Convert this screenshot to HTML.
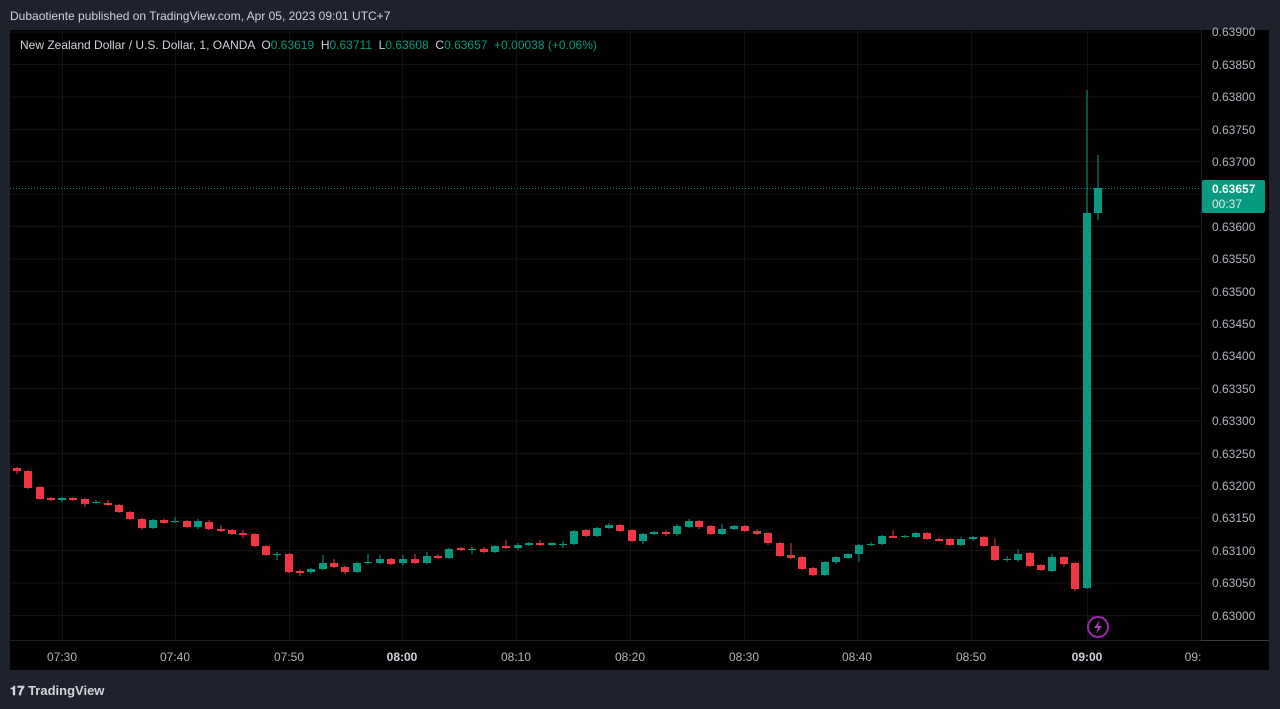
<!DOCTYPE html>
<html><head><meta charset="utf-8"><style>
body{margin:0;width:1280px;height:709px;background:#1e222d;overflow:hidden;font-family:"Liberation Sans",sans-serif}
</style></head><body>
<svg width="1280" height="709" xmlns="http://www.w3.org/2000/svg" style="position:absolute;left:0;top:0">
<rect x="0" y="0" width="1280" height="709" fill="#1e222d"/>
<rect x="10" y="30" width="1259" height="640" fill="#000"/>
<text x="10" y="20" fill="#d1d4dc" font-size="12">Dubaotiente published on TradingView.com, Apr 05, 2023 09:01 UTC+7</text>
<g stroke="#121212" stroke-width="1">
<line x1="10" x2="1201" y1="32" y2="32"/><line x1="10" x2="1201" y1="64.5" y2="64.5"/><line x1="10" x2="1201" y1="97" y2="97"/><line x1="10" x2="1201" y1="129.5" y2="129.5"/><line x1="10" x2="1201" y1="161.5" y2="161.5"/><line x1="10" x2="1201" y1="194" y2="194"/><line x1="10" x2="1201" y1="226.5" y2="226.5"/><line x1="10" x2="1201" y1="259" y2="259"/><line x1="10" x2="1201" y1="291.5" y2="291.5"/><line x1="10" x2="1201" y1="324" y2="324"/><line x1="10" x2="1201" y1="356" y2="356"/><line x1="10" x2="1201" y1="388.5" y2="388.5"/><line x1="10" x2="1201" y1="421" y2="421"/><line x1="10" x2="1201" y1="453.5" y2="453.5"/><line x1="10" x2="1201" y1="486" y2="486"/><line x1="10" x2="1201" y1="518" y2="518"/><line x1="10" x2="1201" y1="550.5" y2="550.5"/><line x1="10" x2="1201" y1="583" y2="583"/><line x1="10" x2="1201" y1="615.5" y2="615.5"/>
<line y1="30" y2="640" x1="62.5" x2="62.5"/><line y1="30" y2="640" x1="175.5" x2="175.5"/><line y1="30" y2="640" x1="289.5" x2="289.5"/><line y1="30" y2="640" x1="402.5" x2="402.5"/><line y1="30" y2="640" x1="516.5" x2="516.5"/><line y1="30" y2="640" x1="630.5" x2="630.5"/><line y1="30" y2="640" x1="744.5" x2="744.5"/><line y1="30" y2="640" x1="857.5" x2="857.5"/><line y1="30" y2="640" x1="971.5" x2="971.5"/><line y1="30" y2="640" x1="1087.5" x2="1087.5"/>
</g>
<line x1="10" x2="1201" y1="640.5" y2="640.5" stroke="#1c1f27"/>
<line x1="1201.5" x2="1201.5" y1="30" y2="640" stroke="#1c1f27"/>
<line x1="1201" x2="1269" y1="640.5" y2="640.5" stroke="#363a45"/>
<text x="20" y="49" font-size="12" fill="#d1d4dc" style="white-space:pre" xml:space="preserve">New Zealand Dollar / U.S. Dollar, 1, OANDA  O<tspan fill="#089981">0.63619</tspan>  H<tspan fill="#089981">0.63711</tspan>  L<tspan fill="#089981">0.63608</tspan>  C<tspan fill="#089981">0.63657</tspan>  <tspan fill="#089981">+0.00038 (+0.06%)</tspan></text>
<line x1="10" x2="1201" y1="188.5" y2="188.5" stroke="#089981" stroke-dasharray="1,2"/>
<g font-size="12" fill="#b2b5be">
<text x="1212" y="36">0.63900</text><text x="1212" y="69">0.63850</text><text x="1212" y="101">0.63800</text><text x="1212" y="134">0.63750</text><text x="1212" y="166">0.63700</text><text x="1212" y="231">0.63600</text><text x="1212" y="263">0.63550</text><text x="1212" y="296">0.63500</text><text x="1212" y="328">0.63450</text><text x="1212" y="360">0.63400</text><text x="1212" y="393">0.63350</text><text x="1212" y="425">0.63300</text><text x="1212" y="458">0.63250</text><text x="1212" y="490">0.63200</text><text x="1212" y="522">0.63150</text><text x="1212" y="555">0.63100</text><text x="1212" y="587">0.63050</text><text x="1212" y="620">0.63000</text>
</g>
<rect x="1202" y="180" width="63" height="33" rx="2" fill="#089981"/>
<text x="1212" y="193" font-size="12" font-weight="bold" fill="#fff">0.63657</text>
<text x="1212" y="208" font-size="12" fill="#e0f0ec">00:37</text>
<g font-size="12" fill="#b2b5be" text-anchor="middle">
<text x="62" y="661">07:30</text><text x="175" y="661">07:40</text><text x="289" y="661">07:50</text><text x="402" y="661" font-weight="bold" fill="#d1d4dc">08:00</text><text x="516" y="661">08:10</text><text x="630" y="661">08:20</text><text x="744" y="661">08:30</text><text x="857" y="661">08:40</text><text x="971" y="661">08:50</text><text x="1087" y="661" font-weight="bold" fill="#d1d4dc">09:00</text><text x="1193" y="661">09:</text>
</g>
<rect x="1201" y="641" width="68" height="29" fill="#000"/>
<circle cx="1098" cy="627" r="10" fill="none" stroke="#9c27b0" stroke-width="2"/>
<path d="M1100 620 L1094 628 L1098 628 L1096 634 L1102 626 L1098 626 Z" fill="#ab47bc"/>
<g id="c">
<g fill="#f23645" stroke="#f23645">
<line x1="17" x2="17" y1="467" y2="474"/><rect x="13" y="468" width="8" height="3" stroke="none"/>
<line x1="28" x2="28" y1="470" y2="489"/><rect x="24" y="471" width="8" height="17" stroke="none"/>
<line x1="40" x2="40" y1="486" y2="500"/><rect x="36" y="487" width="8" height="12" stroke="none"/>
<line x1="51" x2="51" y1="497" y2="501"/><rect x="47" y="498" width="8" height="2" stroke="none"/>
<line x1="73" x2="73" y1="497" y2="501"/><rect x="69" y="498" width="8" height="2" stroke="none"/>
<line x1="85" x2="85" y1="498" y2="507"/><rect x="81" y="499" width="8" height="5" stroke="none"/>
<line x1="108" x2="108" y1="500" y2="506"/><rect x="104" y="503" width="8" height="2" stroke="none"/>
<line x1="119" x2="119" y1="504" y2="513"/><rect x="115" y="505" width="8" height="7" stroke="none"/>
<line x1="130" x2="130" y1="511" y2="520"/><rect x="126" y="512" width="8" height="7" stroke="none"/>
<line x1="142" x2="142" y1="518" y2="530"/><rect x="138" y="519" width="8" height="9" stroke="none"/>
<line x1="164" x2="164" y1="519" y2="524"/><rect x="160" y="520" width="8" height="3" stroke="none"/>
<line x1="187" x2="187" y1="520" y2="528"/><rect x="183" y="521" width="8" height="6" stroke="none"/>
<line x1="209" x2="209" y1="520" y2="530"/><rect x="205" y="522" width="8" height="7" stroke="none"/>
<line x1="221" x2="221" y1="525" y2="532"/><rect x="217" y="529" width="8" height="2" stroke="none"/>
<line x1="232" x2="232" y1="529" y2="535"/><rect x="228" y="530" width="8" height="4" stroke="none"/>
<line x1="243" x2="243" y1="530" y2="538"/><rect x="239" y="533" width="8" height="2" stroke="none"/>
<line x1="255" x2="255" y1="533" y2="547"/><rect x="251" y="534" width="8" height="12" stroke="none"/>
<line x1="266" x2="266" y1="545" y2="556"/><rect x="262" y="546" width="8" height="9" stroke="none"/>
<line x1="289" x2="289" y1="553" y2="573"/><rect x="285" y="554" width="8" height="18" stroke="none"/>
<line x1="300" x2="300" y1="569" y2="576"/><rect x="296" y="571" width="8" height="2" stroke="none"/>
<line x1="334" x2="334" y1="559" y2="568"/><rect x="330" y="563" width="8" height="4" stroke="none"/>
<line x1="345" x2="345" y1="566" y2="574"/><rect x="341" y="567" width="8" height="5" stroke="none"/>
<line x1="391" x2="391" y1="558" y2="565"/><rect x="387" y="559" width="8" height="5" stroke="none"/>
<line x1="415" x2="415" y1="554" y2="564"/><rect x="411" y="559" width="8" height="4" stroke="none"/>
<line x1="438" x2="438" y1="554" y2="559"/><rect x="434" y="556" width="8" height="2" stroke="none"/>
<line x1="461" x2="461" y1="547" y2="551"/><rect x="457" y="548" width="8" height="2" stroke="none"/>
<line x1="484" x2="484" y1="547" y2="553"/><rect x="480" y="549" width="8" height="3" stroke="none"/>
<line x1="506" x2="506" y1="540" y2="549"/><rect x="502" y="546" width="8" height="2" stroke="none"/>
<line x1="540" x2="540" y1="540" y2="546"/><rect x="536" y="543" width="8" height="2" stroke="none"/>
<line x1="586" x2="586" y1="529" y2="537"/><rect x="582" y="530" width="8" height="6" stroke="none"/>
<line x1="620" x2="620" y1="524" y2="532"/><rect x="616" y="525" width="8" height="6" stroke="none"/>
<line x1="632" x2="632" y1="529" y2="542"/><rect x="628" y="530" width="8" height="11" stroke="none"/>
<line x1="666" x2="666" y1="530" y2="536"/><rect x="662" y="532" width="8" height="2" stroke="none"/>
<line x1="699" x2="699" y1="520" y2="529"/><rect x="695" y="521" width="8" height="6" stroke="none"/>
<line x1="711" x2="711" y1="525" y2="535"/><rect x="707" y="526" width="8" height="8" stroke="none"/>
<line x1="745" x2="745" y1="525" y2="532"/><rect x="741" y="526" width="8" height="5" stroke="none"/>
<line x1="757" x2="757" y1="529" y2="535"/><rect x="753" y="531" width="8" height="3" stroke="none"/>
<line x1="768" x2="768" y1="532" y2="545"/><rect x="764" y="533" width="8" height="10" stroke="none"/>
<line x1="780" x2="780" y1="542" y2="557"/><rect x="776" y="543" width="8" height="13" stroke="none"/>
<line x1="791" x2="791" y1="543" y2="559"/><rect x="787" y="555" width="8" height="3" stroke="none"/>
<line x1="802" x2="802" y1="556" y2="570"/><rect x="798" y="557" width="8" height="12" stroke="none"/>
<line x1="813" x2="813" y1="567" y2="576"/><rect x="809" y="568" width="8" height="7" stroke="none"/>
<line x1="893" x2="893" y1="530" y2="538"/><rect x="889" y="536" width="8" height="2" stroke="none"/>
<line x1="927" x2="927" y1="532" y2="540"/><rect x="923" y="533" width="8" height="6" stroke="none"/>
<line x1="939" x2="939" y1="538" y2="541"/><rect x="935" y="539" width="8" height="2" stroke="none"/>
<line x1="950" x2="950" y1="538" y2="546"/><rect x="946" y="539" width="8" height="6" stroke="none"/>
<line x1="984" x2="984" y1="536" y2="547"/><rect x="980" y="537" width="8" height="9" stroke="none"/>
<line x1="995" x2="995" y1="538" y2="561"/><rect x="991" y="546" width="8" height="14" stroke="none"/>
<line x1="1030" x2="1030" y1="552" y2="567"/><rect x="1026" y="553" width="8" height="13" stroke="none"/>
<line x1="1041" x2="1041" y1="564" y2="571"/><rect x="1037" y="565" width="8" height="5" stroke="none"/>
<line x1="1064" x2="1064" y1="556" y2="567"/><rect x="1060" y="557" width="8" height="7" stroke="none"/>
<line x1="1075" x2="1075" y1="562" y2="591"/><rect x="1071" y="563" width="8" height="26" stroke="none"/>
</g>
<g fill="#089981" stroke="#089981">
<line x1="62" x2="62" y1="497" y2="502"/><rect x="58" y="498" width="8" height="2" stroke="none"/>
<line x1="96" x2="96" y1="500" y2="504"/><rect x="92" y="502" width="8" height="1" stroke="none"/>
<line x1="153" x2="153" y1="519" y2="529"/><rect x="149" y="520" width="8" height="8" stroke="none"/>
<line x1="175" x2="175" y1="517" y2="523"/><rect x="171" y="521" width="8" height="1" stroke="none"/>
<line x1="198" x2="198" y1="519" y2="529"/><rect x="194" y="521" width="8" height="6" stroke="none"/>
<line x1="277" x2="277" y1="552" y2="560"/><rect x="273" y="554" width="8" height="1" stroke="none"/>
<line x1="311" x2="311" y1="568" y2="574"/><rect x="307" y="569" width="8" height="3" stroke="none"/>
<line x1="323" x2="323" y1="555" y2="570"/><rect x="319" y="563" width="8" height="6" stroke="none"/>
<line x1="357" x2="357" y1="562" y2="573"/><rect x="353" y="563" width="8" height="9" stroke="none"/>
<line x1="368" x2="368" y1="554" y2="564"/><rect x="364" y="562" width="8" height="1" stroke="none"/>
<line x1="380" x2="380" y1="555" y2="564"/><rect x="376" y="559" width="8" height="4" stroke="none"/>
<line x1="403" x2="403" y1="555" y2="566"/><rect x="399" y="559" width="8" height="4" stroke="none"/>
<line x1="427" x2="427" y1="552" y2="564"/><rect x="423" y="556" width="8" height="7" stroke="none"/>
<line x1="449" x2="449" y1="548" y2="559"/><rect x="445" y="549" width="8" height="9" stroke="none"/>
<line x1="472" x2="472" y1="547" y2="554"/><rect x="468" y="549" width="8" height="1" stroke="none"/>
<line x1="495" x2="495" y1="545" y2="553"/><rect x="491" y="546" width="8" height="6" stroke="none"/>
<line x1="518" x2="518" y1="543" y2="550"/><rect x="514" y="545" width="8" height="3" stroke="none"/>
<line x1="529" x2="529" y1="542" y2="546"/><rect x="525" y="543" width="8" height="2" stroke="none"/>
<line x1="552" x2="552" y1="542" y2="546"/><rect x="548" y="543" width="8" height="2" stroke="none"/>
<line x1="563" x2="563" y1="541" y2="548"/><rect x="559" y="544" width="8" height="1" stroke="none"/>
<line x1="574" x2="574" y1="530" y2="545"/><rect x="570" y="531" width="8" height="13" stroke="none"/>
<line x1="597" x2="597" y1="527" y2="537"/><rect x="593" y="528" width="8" height="8" stroke="none"/>
<line x1="609" x2="609" y1="523" y2="529"/><rect x="605" y="525" width="8" height="3" stroke="none"/>
<line x1="643" x2="643" y1="533" y2="544"/><rect x="639" y="534" width="8" height="7" stroke="none"/>
<line x1="654" x2="654" y1="531" y2="535"/><rect x="650" y="532" width="8" height="2" stroke="none"/>
<line x1="677" x2="677" y1="524" y2="536"/><rect x="673" y="526" width="8" height="8" stroke="none"/>
<line x1="689" x2="689" y1="519" y2="528"/><rect x="685" y="521" width="8" height="6" stroke="none"/>
<line x1="722" x2="722" y1="524" y2="535"/><rect x="718" y="529" width="8" height="5" stroke="none"/>
<line x1="734" x2="734" y1="525" y2="530"/><rect x="730" y="526" width="8" height="3" stroke="none"/>
<line x1="825" x2="825" y1="561" y2="576"/><rect x="821" y="562" width="8" height="13" stroke="none"/>
<line x1="836" x2="836" y1="556" y2="564"/><rect x="832" y="557" width="8" height="5" stroke="none"/>
<line x1="848" x2="848" y1="553" y2="559"/><rect x="844" y="554" width="8" height="4" stroke="none"/>
<line x1="859" x2="859" y1="544" y2="562"/><rect x="855" y="545" width="8" height="9" stroke="none"/>
<line x1="871" x2="871" y1="542" y2="546"/><rect x="867" y="544" width="8" height="1" stroke="none"/>
<line x1="882" x2="882" y1="535" y2="545"/><rect x="878" y="536" width="8" height="8" stroke="none"/>
<line x1="905" x2="905" y1="535" y2="538"/><rect x="901" y="536" width="8" height="1" stroke="none"/>
<line x1="916" x2="916" y1="532" y2="538"/><rect x="912" y="533" width="8" height="4" stroke="none"/>
<line x1="961" x2="961" y1="537" y2="546"/><rect x="957" y="539" width="8" height="6" stroke="none"/>
<line x1="973" x2="973" y1="536" y2="541"/><rect x="969" y="537" width="8" height="2" stroke="none"/>
<line x1="1007" x2="1007" y1="556" y2="562"/><rect x="1003" y="559" width="8" height="1" stroke="none"/>
<line x1="1018" x2="1018" y1="549" y2="562"/><rect x="1014" y="554" width="8" height="6" stroke="none"/>
<line x1="1052" x2="1052" y1="554" y2="572"/><rect x="1048" y="557" width="8" height="14" stroke="none"/>
<line x1="1087" x2="1087" y1="90" y2="589"/><rect x="1083" y="213" width="8" height="375" stroke="none"/>
<line x1="1098" x2="1098" y1="155" y2="220"/><rect x="1094" y="188" width="8" height="25" stroke="none"/>
</g>
</g>
<text x="10" y="695" font-size="13" font-weight="bold" fill="#d1d4dc">𝟏𝟕 TradingView</text>
</svg>
</body></html>
